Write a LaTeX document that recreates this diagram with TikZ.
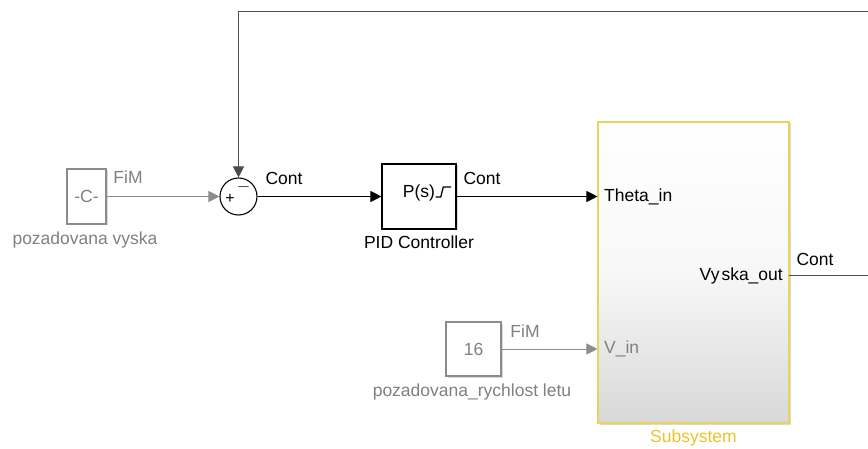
\documentclass[tikz,border=0pt]{standalone}
\usepackage{fontspec}
\setmainfont{Liberation Sans}
\usetikzlibrary{arrows.meta, shadows}
\definecolor{offline}{RGB}{140, 140, 140}
\definecolor{offtext}{RGB}{128, 128, 128}
\definecolor{subframe}{RGB}{232, 214, 90}
\definecolor{sublabel}{RGB}{232, 196, 40}
\definecolor{subbottom}{RGB}{216, 216, 216}
\tikzset{
	blk/.style={draw, fill=white, inner sep=0pt, line width=1.1pt,
		drop shadow={shadow xshift=1.5pt, shadow yshift=-1.5pt, opacity=0.3}},
	sig/.style={-{Triangle[length=11pt, width=11pt]}, line width=1pt},
	lbl/.style={inner sep=0pt}
}

\begin{document}
\begin{tikzpicture}[x=1pt, y=-1pt, font=\fontsize{17.5}{20}\selectfont]
		\useasboundingbox (0,0) rectangle (868,449);

		\node[blk, draw=offline, text=offtext, minimum width=39pt, minimum height=55pt] (cst) at (86.5,196.5) {-C-};
		\node[lbl, text=offtext] (cstname) at (85,240) {pozadovana vyska};

		\node[circle, draw, fill=white, line width=1.1pt, minimum size=37pt, inner sep=0pt] (sum) at (238.5,196.5) {};
		\node[lbl, font=\fontsize{16}{16}\selectfont] (splus) at (230,199) {+};
		\node[lbl, font=\fontsize{16}{16}\selectfont] (sminus) at (243.5,187) {$-$};

		\node[blk, minimum width=74pt, minimum height=65pt] (pid) at (419,196.5) {};
		\node[lbl] (pidtf) at (419,193) {P(s)};
		\draw[line width=1.3pt] (pidtf.east |- 0,197) ++(0.5,0) -- ++(5,0) -- ++(2.5,-10) -- ++(8,0);
		\node[lbl] (pidname) at (419,242) {PID Controller};

		\node[draw=subframe, line width=1.1pt, top color=white, bottom color=subbottom, middle color=white!80!subbottom,
			minimum width=191pt, minimum height=301pt, inner sep=0pt,
			drop shadow={shadow xshift=1.5pt, shadow yshift=-1.5pt, opacity=0.3}] (sub) at (693.5,272.5) {};
		\node[lbl, anchor=west] (thin) at (604,196.5) {Theta\_in};
		\node[lbl, anchor=west, text=offtext] (vin) at (604,349) {V\_in};
		\node[lbl, anchor=east] (vout) at (783,276) {Vy\kern2pt ska\_out};
		\node[lbl, text=sublabel] (subname) at (693.5,438) {Subsystem};

		\node[blk, draw=offline, text=offtext, minimum width=55pt, minimum height=54pt] (spd) at (473.5,349) {16};
		\node[lbl, text=offtext] (spdname) at (472,392) {pozadovana\_rychlost letu};

		\coordinate (outp) at (789,276);
		\coordinate (rgt) at (868,276);
		\coordinate (top) at (868,12);

		\draw[sig, offline] (cst.east) -- (sum.west);
		\node[lbl, text=offtext] (fim1) at (128,177) {FiM};
		\draw[sig] (sum.east) -- (pid.west);
		\node[lbl] (cont1) at (284,178) {Cont};
		\draw[sig] (pid.east) -- (sub.west |- pid.east);
		\node[lbl] (cont2) at (482,178) {Cont};
		\draw[sig, offline] (spd.east) -- (sub.west |- spd.east);
		\node[lbl, text=offtext] (fim2) at (525,331) {FiM};
		\draw[line width=1pt, black!70] (outp) -- (rgt);
		\node[lbl] (cont3) at (815,259) {Cont};
		\draw[sig, black!70] (top) -- (sum.north |- top) -- (sum.north);
	\end{tikzpicture}
\end{document}
